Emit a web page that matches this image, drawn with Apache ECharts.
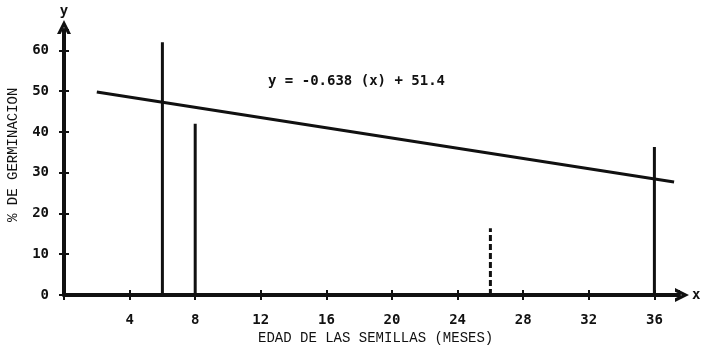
<!DOCTYPE html>
<html>
<head>
<meta charset="utf-8">
<script src="https://cdn.jsdelivr.net/npm/echarts@6/dist/echarts.min.js"></script>
<style>html,body{margin:0;padding:0;background:#fff;}#c{width:704px;height:348px;}</style>
</head>
<body>
<div id="c"></div>
<script>
// Data
var xTicks = [4, 8, 12, 16, 20, 24, 28, 32, 36];
var yTicks = [0, 10, 20, 30, 40, 50, 60];
var barX = [6, 8, 26, 36];
var barY = [62, 42, 16.4, 36.3];
var barDashed = [false, false, true, false];
var fitX = [2, 37.2];
var fitY = [49.8, 27.7];
var equationText = 'y = -0.638 (x) + 51.4';
var xTitle = 'EDAD DE LAS SEMILLAS (MESES)';
var yTitle = '% DE GERMINACION';

var chart = echarts.init(document.getElementById('c'), null, {renderer: 'canvas'});
var ink = '#111';
var chevron = 'path://M0,10 L5,0 L10,10 L7.4,10 L5,5 L2.6,10 Z';

var series = [];
for (var i = 0; i < barX.length; i++) {
  series.push({
    type: 'line', xAxisIndex: 0, yAxisIndex: 0,
    data: [[barX[i], 0], [barX[i], barY[i]]],
    symbol: 'none', silent: true,
    lineStyle: {color: ink, width: 3, type: barDashed[i] ? [6, 3] : 'solid'}
  });
}
series.push({
  type: 'line', xAxisIndex: 0, yAxisIndex: 0,
  data: [[fitX[0], fitY[0]], [fitX[1], fitY[1]]],
  symbol: 'none', silent: true,
  lineStyle: {color: ink, width: 3}
});

var tickFont = {fontFamily: 'DejaVu Sans Mono', fontSize: 14, fontWeight: 'bold', color: ink};

chart.setOption({
  animation: false,
  backgroundColor: '#fff',
  grid: {left: 64, right: 25, top: 30, bottom: 53},
  xAxis: [{
    type: 'value', min: 0, max: 37.5, interval: 4, position: 'bottom',
    axisLine: {show: true, onZero: false, symbol: ['none', chevron], symbolSize: [16, 14], symbolOffset: [0, 3], lineStyle: {color: ink, width: 4}},
    axisTick: {show: true, length: 5, lineStyle: {color: ink, width: 2}},
    splitLine: {show: false},
    axisLabel: Object.assign({margin: 18, showMaxLabel: false, formatter: function (v) { return xTicks.indexOf(v) >= 0 ? String(v) : ''; }}, tickFont),
    name: 'x', nameLocation: 'end', nameGap: 13,
    nameTextStyle: {fontFamily: 'DejaVu Sans Mono', fontSize: 14, fontWeight: 'bold', color: ink, verticalAlign: 'middle'}
  }, {
    type: 'value', min: 0, max: 37.5, interval: 4, position: 'bottom',
    axisLine: {show: false}, axisLabel: {show: false}, splitLine: {show: false},
    axisTick: {show: true, inside: true, length: 5, lineStyle: {color: ink, width: 2}}
  }],
  yAxis: [{
    type: 'value', min: 0, max: 65, interval: 10, position: 'left',
    axisLine: {show: true, onZero: false, symbol: ['none', chevron], symbolSize: [16, 14], symbolOffset: [0, 3], lineStyle: {color: ink, width: 4}},
    axisTick: {show: true, length: 5, lineStyle: {color: ink, width: 2}},
    splitLine: {show: false},
    axisLabel: Object.assign({margin: 15, showMaxLabel: false, formatter: function (v) { return yTicks.indexOf(v) >= 0 ? String(v) : ''; }}, tickFont),
    name: 'y', nameLocation: 'end', nameGap: 12,
    nameTextStyle: Object.assign({align: 'center'}, tickFont)
  }, {
    type: 'value', min: 0, max: 65, interval: 10, position: 'left',
    axisLine: {show: false}, axisLabel: {show: false}, splitLine: {show: false},
    axisTick: {show: true, inside: true, length: 5, lineStyle: {color: ink, width: 2}}
  }],
  graphic: [
    {type: 'text', left: 268, top: 74, style: {text: equationText, font: 'bold 14px "DejaVu Sans Mono"', fill: ink}},
    {type: 'text', left: 258, top: 331, style: {text: xTitle, font: '14px "Liberation Mono"', fill: ink}},
    {type: 'text', x: 6, y: 222, rotation: Math.PI / 2, style: {text: yTitle, font: '14px "Liberation Mono"', fill: ink}}
  ],
  series: series
});
</script>
</body>
</html>
